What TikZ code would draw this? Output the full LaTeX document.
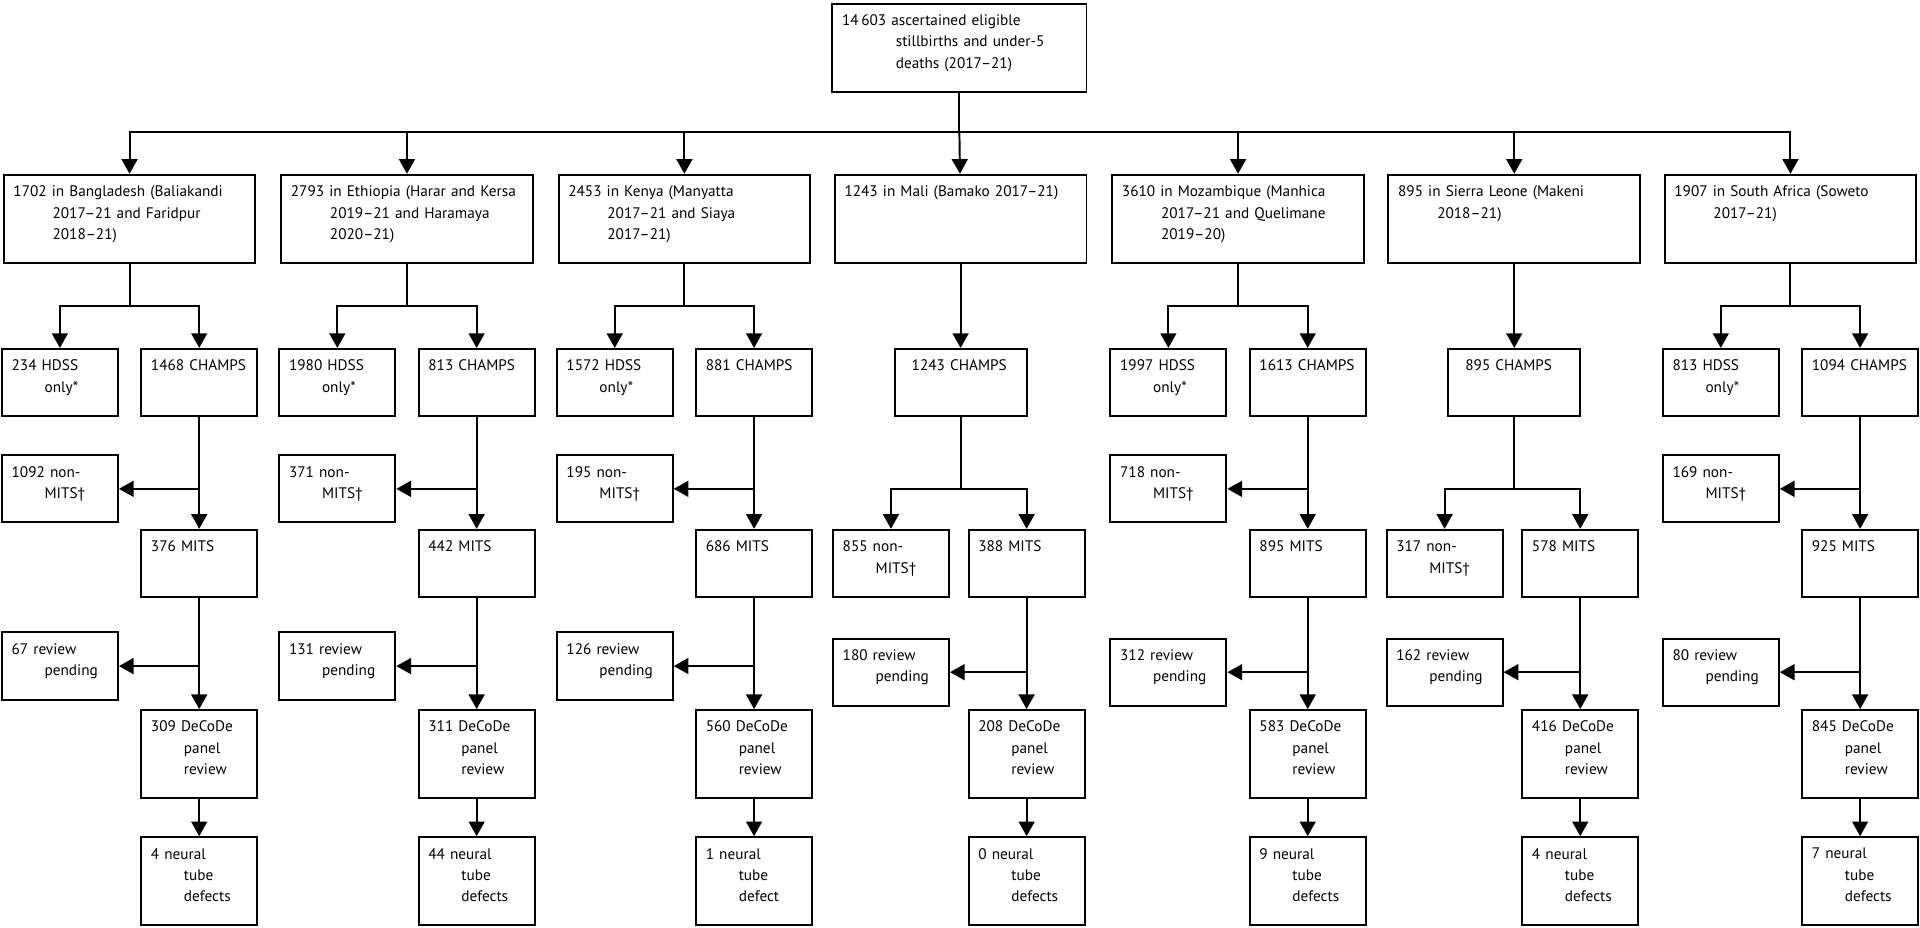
\documentclass[tikz,border=0pt]{standalone}
\usepackage{fontspec}
\setmainfont{PT Sans}
\usetikzlibrary{arrows.meta}
\usetikzlibrary{positioning}
\tikzset{every picture/.style={line width=1.6pt}}
\newcommand{\ind}[1]{\\\hspace*{#1}}
\tikzset{
  box/.style={draw, line width=1.6pt, inner sep=0pt},
  txt/.style={anchor=north west, inner xsep=8pt, inner ysep=9pt, align=left,
    font=\fontsize{12.5}{17.5}\selectfont},
  big/.style={box, minimum width=206pt, minimum height=72pt,
    label={[txt, text width=195pt]north west:#1}},
  small/.style={box, minimum width=95pt, minimum height=55pt,
    label={[txt, text width=88pt]north west:#1}},
  tall/.style={box, minimum width=95pt, minimum height=72pt,
    label={[txt, text width=88pt]north west:#1}},
  wide/.style={box, minimum width=108pt, minimum height=55pt,
    label={[txt, text width=96pt, inner xsep=14pt]north west:#1}},
  arr/.style={-{Triangle[length=12pt,width=13pt]}},
}

\begin{document}
\begin{tikzpicture}[x=1pt,y=-1pt]
\useasboundingbox (-1,0) rectangle (1570,759);

% Top box
\node[box, minimum width=208pt, minimum height=72pt,
  label={[txt, text width=195pt]north west:14\,603 ascertained eligible\ind{44pt}stillbirths and under-5\ind{44pt}deaths (2017–21)}]
  (top) at (784,39) {};
\coordinate (bar) at (784,108);
\draw (top) -- (bar);

% Sites
\node[big={1702 in Bangladesh (Baliakandi\ind{32pt}2017–21 and Faridpur\ind{32pt}2018–21)}] (bgd) at (105,179) {};
\node[big={2793 in Ethiopia (Harar and Kersa\ind{32pt}2019–21 and Haramaya\ind{32pt}2020–21)}] (eth) at (332,179) {};
\node[big={2453 in Kenya (Manyatta\ind{32pt}2017–21 and Siaya\ind{32pt}2017–21)}] (ken) at (559,179) {};
\node[big={1243 in Mali (Bamako 2017–21)}] (mli) at (785,179) {};
\node[big={3610 in Mozambique (Manhica\ind{32pt}2017–21 and Quelimane\ind{32pt}2019–20)}] (moz) at (1012,179) {};
\node[big={895 in Sierra Leone (Makeni\ind{32pt}2018–21)}] (sle) at (1238,179) {};
\node[big={1907 in South Africa (Soweto\ind{32pt}2017–21)}] (zaf) at (1464,179) {};
\draw[arr] (bar) -| (bgd);
\draw[arr] (bar) -| (eth);
\draw[arr] (bar) -| (ken);
\draw[arr] (bar) -- (mli);
\draw[arr] (bar) -| (moz);
\draw[arr] (bar) -| (sle);
\draw[arr] (bar) -| (zaf);

% Bangladesh
\coordinate (bgdS) at (105,250);
\node[small={234 HDSS\ind{27pt}only*}] (bgdH) at (48,313) {};
\node[small={1468 CHAMPS}] (bgdC) at (162,313) {};
\node[small={1092 non-\ind{27pt}MITS†}] (bgdN) at (48,400) {};
\node[small={376 MITS}] (bgdM) at (162,461) {};
\node[small={67 review\ind{27pt}pending}] (bgdP) at (48,545) {};
\node[tall={309 DeCoDe\ind{27pt}panel\ind{27pt}review}] (bgdD) at (162,617) {};
\node[tall={4 neural\ind{27pt}tube\ind{27pt}defects}] (bgdT) at (162,721) {};
\draw (bgd) -- (bgdS);
\draw[arr] (bgdS) -| (bgdH);
\draw[arr] (bgdS) -| (bgdC);
\draw[arr] (bgdC) -- (bgdM);
\draw[arr] (bgdM |- bgdN) -- (bgdN);
\draw[arr] (bgdM) -- (bgdD);
\draw[arr] (bgdD |- bgdP) -- (bgdP);
\draw[arr] (bgdD) -- (bgdT);

% Ethiopia
\coordinate (ethS) at (332,250);
\node[small={1980 HDSS\ind{27pt}only*}] (ethH) at (275,313) {};
\node[small={813 CHAMPS}] (ethC) at (389,313) {};
\node[small={371 non-\ind{27pt}MITS†}] (ethN) at (275,400) {};
\node[small={442 MITS}] (ethM) at (389,461) {};
\node[small={131 review\ind{27pt}pending}] (ethP) at (275,545) {};
\node[tall={311 DeCoDe\ind{27pt}panel\ind{27pt}review}] (ethD) at (389,617) {};
\node[tall={44 neural\ind{27pt}tube\ind{27pt}defects}] (ethT) at (389,721) {};
\draw (eth) -- (ethS);
\draw[arr] (ethS) -| (ethH);
\draw[arr] (ethS) -| (ethC);
\draw[arr] (ethC) -- (ethM);
\draw[arr] (ethM |- ethN) -- (ethN);
\draw[arr] (ethM) -- (ethD);
\draw[arr] (ethD |- ethP) -- (ethP);
\draw[arr] (ethD) -- (ethT);

% Kenya
\coordinate (kenS) at (559,250);
\node[small={1572 HDSS\ind{27pt}only*}] (kenH) at (502,313) {};
\node[small={881 CHAMPS}] (kenC) at (616,313) {};
\node[small={195 non-\ind{27pt}MITS†}] (kenN) at (502,400) {};
\node[small={686 MITS}] (kenM) at (616,461) {};
\node[small={126 review\ind{27pt}pending}] (kenP) at (502,545) {};
\node[tall={560 DeCoDe\ind{27pt}panel\ind{27pt}review}] (kenD) at (616,617) {};
\node[tall={1 neural\ind{27pt}tube\ind{27pt}defect}] (kenT) at (616,721) {};
\draw (ken) -- (kenS);
\draw[arr] (kenS) -| (kenH);
\draw[arr] (kenS) -| (kenC);
\draw[arr] (kenC) -- (kenM);
\draw[arr] (kenM |- kenN) -- (kenN);
\draw[arr] (kenM) -- (kenD);
\draw[arr] (kenD |- kenP) -- (kenP);
\draw[arr] (kenD) -- (kenT);

% Mali
\node[wide={1243 CHAMPS}] (mliC) at (785,313) {};
\coordinate (mliS) at (785,400);
\node[small={855 non-\ind{27pt}MITS†}] (mliN) at (728,461) {};
\node[small={388 MITS}] (mliM) at (839,461) {};
\node[small={180 review\ind{27pt}pending}] (mliP) at (728,550) {};
\node[tall={208 DeCoDe\ind{27pt}panel\ind{27pt}review}] (mliD) at (839,617) {};
\node[tall={0 neural\ind{27pt}tube\ind{27pt}defects}] (mliT) at (839,721) {};
\draw[arr] (mli) -- (mliC);
\draw (mliC) -- (mliS);
\draw[arr] (mliS) -| (mliN);
\draw[arr] (mliS) -| (mliM);
\draw[arr] (mliM) -- (mliD);
\draw[arr] (mliD |- mliP) -- (mliP);
\draw[arr] (mliD) -- (mliT);

% Mozambique
\coordinate (mozS) at (1012,250);
\node[small={1997 HDSS\ind{27pt}only*}] (mozH) at (955,313) {};
\node[small={1613 CHAMPS}] (mozC) at (1069,313) {};
\node[small={718 non-\ind{27pt}MITS†}] (mozN) at (955,400) {};
\node[small={895 MITS}] (mozM) at (1069,461) {};
\node[small={312 review\ind{27pt}pending}] (mozP) at (955,550) {};
\node[tall={583 DeCoDe\ind{27pt}panel\ind{27pt}review}] (mozD) at (1069,617) {};
\node[tall={9 neural\ind{27pt}tube\ind{27pt}defects}] (mozT) at (1069,721) {};
\draw (moz) -- (mozS);
\draw[arr] (mozS) -| (mozH);
\draw[arr] (mozS) -| (mozC);
\draw[arr] (mozC) -- (mozM);
\draw[arr] (mozM |- mozN) -- (mozN);
\draw[arr] (mozM) -- (mozD);
\draw[arr] (mozD |- mozP) -- (mozP);
\draw[arr] (mozD) -- (mozT);

% Sierra Leone
\node[wide={895 CHAMPS}] (sleC) at (1238,313) {};
\coordinate (sleS) at (1238,400);
\node[small={317 non-\ind{27pt}MITS†}] (sleN) at (1181,461) {};
\node[small={578 MITS}] (sleM) at (1292,461) {};
\node[small={162 review\ind{27pt}pending}] (sleP) at (1181,550) {};
\node[tall={416 DeCoDe\ind{27pt}panel\ind{27pt}review}] (sleD) at (1292,617) {};
\node[tall={4 neural\ind{27pt}tube\ind{27pt}defects}] (sleT) at (1292,721) {};
\draw[arr] (sle) -- (sleC);
\draw (sleC) -- (sleS);
\draw[arr] (sleS) -| (sleN);
\draw[arr] (sleS) -| (sleM);
\draw[arr] (sleM) -- (sleD);
\draw[arr] (sleD |- sleP) -- (sleP);
\draw[arr] (sleD) -- (sleT);

% South Africa
\coordinate (zafS) at (1464,250);
\node[small={813 HDSS\ind{27pt}only*}] (zafH) at (1407,313) {};
\node[small={1094 CHAMPS}] (zafC) at (1521,313) {};
\node[small={169 non-\ind{27pt}MITS†}] (zafN) at (1407,400) {};
\node[small={925 MITS}] (zafM) at (1521,461) {};
\node[small={80 review\ind{27pt}pending}] (zafP) at (1407,550) {};
\node[tall={845 DeCoDe\ind{27pt}panel\ind{27pt}review}] (zafD) at (1521,617) {};
\node[tall={7 neural\ind{27pt}tube\ind{27pt}defects}] (zafT) at (1521,721) {};
\draw (zaf) -- (zafS);
\draw[arr] (zafS) -| (zafH);
\draw[arr] (zafS) -| (zafC);
\draw[arr] (zafC) -- (zafM);
\draw[arr] (zafM |- zafN) -- (zafN);
\draw[arr] (zafM) -- (zafD);
\draw[arr] (zafD |- zafP) -- (zafP);
\draw[arr] (zafD) -- (zafT);

\end{tikzpicture}
\end{document}
